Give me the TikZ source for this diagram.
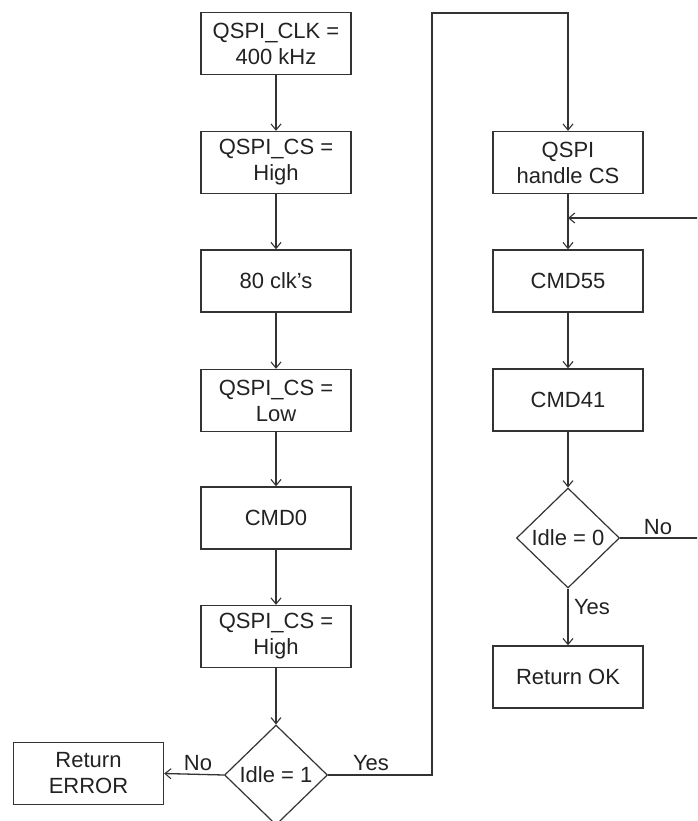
\documentclass[tikz,border=0pt]{standalone}
\usepackage{fontspec}
\setmainfont{Liberation Sans}
\usetikzlibrary{shapes.geometric,arrows.meta}
\definecolor{ink}{HTML}{222222}
\definecolor{wire}{HTML}{333333}
\begin{document}
\begin{tikzpicture}[x=1pt,y=-1pt,
  font=\fontsize{22}{26}\selectfont,
  every node/.style={text=ink},
  procbox/.style={draw=wire,line width=1.4pt,minimum width=150pt,minimum height=62pt,
    align=center,inner sep=0pt},
  decide/.style={draw=wire,line width=1.2pt,shape=diamond,minimum width=103pt,
    minimum height=100pt,inner sep=0pt},
  flow/.style={draw=wire,line width=1.3pt,-{Straight Barb[length=6pt,width=10pt,line width=1.1pt]}},
  tag/.style={inner sep=0pt}]
\useasboundingbox (0,0) rectangle (697,821);
\clip (0,0) rectangle (697,821);

% left column
\node[procbox] (clk)   at (276,43.5)  {QSPI\_CLK =\\400 kHz};
\node[procbox] (csh1)  at (276,162.5) {QSPI\_CS =\\High};
\node[procbox] (clks)  at (276,281)   {80 clk's};
\node[procbox] (csl)   at (276,400.5) {QSPI\_CS =\\Low};
\node[procbox] (cmd0)  at (276,518)   {CMD0};
\node[procbox] (csh2)  at (276,636.5) {QSPI\_CS =\\High};
\node[decide]  (idle1) at (276,775)   {Idle = 1};
\node[procbox] (err)   at (88.5,773.5){Return\\ERROR};

% right column
\node[procbox] (hcs)   at (568,162.5) {QSPI\\handle CS};
\node[procbox] (c55)   at (568,281)   {CMD55};
\node[procbox] (c41)   at (568,400)   {CMD41};
\node[decide]  (idle0) at (568,538)   {Idle = 0};
\node[procbox] (ok)    at (568,677)   {Return OK};

\coordinate (yesA) at (432,775);
\coordinate (yesB) at (432,13);
\coordinate (yesC) at (568,13);
\coordinate (noA)  at (699,538);
\coordinate (noB)  at (699,218);
\coordinate (join) at (568,218);

% connectors
\draw[flow] (clk) -- (csh1);
\draw[flow] (csh1) -- (clks);
\draw[flow] (clks) -- (csl);
\draw[flow] (csl) -- (cmd0);
\draw[flow] (cmd0) -- (csh2);
\draw[flow] (csh2) -- (idle1.north);
\draw[flow] (idle1.west) -- (err.east);
\draw[flow] (idle1.east) -- (yesA) -- (yesB) -- (yesC) -- (hcs.north);
\draw[flow] (hcs) -- (c55);
\draw[flow] (c55) -- (c41);
\draw[flow] (c41) -- (idle0.north);
\draw[flow] (idle0.south) -- (ok.north);
\draw[flow] (idle0.east) -- (noA) -- (noB) -- (join);

% branch labels
\node[tag] (lno1)  at (198,763) {No};
\node[tag] (lyes1) at (371,763) {Yes};
\node[tag] (lno0)  at (658,527) {No};
\node[tag] (lyes0) at (592,607) {Yes};
\end{tikzpicture}
\end{document}
